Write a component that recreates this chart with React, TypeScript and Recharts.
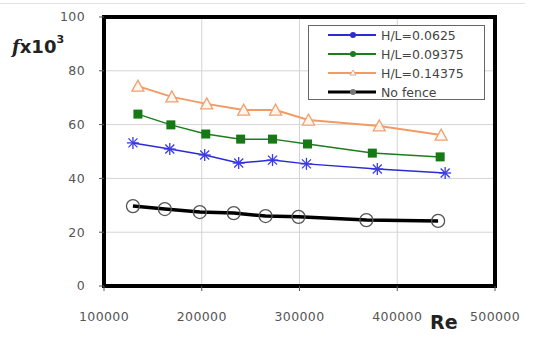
import { LineChart, Line, XAxis, YAxis, CartesianGrid, ReferenceArea, Legend } from "recharts";

const xTicks = [100000, 200000, 300000, 400000, 500000];
const yTicks = [0, 20, 40, 60, 80, 100];

const seriesNames = ["H/L=0.0625", "H/L=0.09375", "H/L=0.14375", "No fence"];

const reLow = [129600, 167300, 203000, 237800, 272400, 307100, 379600, 449000];
const fLow = [53.2, 50.9, 48.7, 45.7, 46.8, 45.4, 43.5, 42.0];

const reMid = [134700, 168400, 204100, 239800, 272400, 308200, 374500, 443900];
const fMid = [63.9, 59.9, 56.5, 54.6, 54.6, 52.8, 49.4, 48.0];

const reHigh = [134700, 169400, 205100, 242900, 275500, 309200, 381600, 444900];
const fHigh = [74.3, 70.3, 67.7, 65.4, 65.4, 61.7, 59.5, 56.1];

const reNone = [129600, 162200, 198000, 232700, 265300, 299000, 368400, 441800];
const fNone = [29.7, 28.6, 27.5, 27.1, 26.0, 25.7, 24.5, 24.2];

const toPoints = (re: number[], f: number[]) => re.map((r, i) => ({ re: r, f: f[i] }));

const colors = ["#2b2bd6", "#1b7d1b", "#f29a62", "#000000"];

const Star = (props: any) => {
  const { cx, cy } = props;
  if (cx == null || cy == null) return null;
  const s = 6;
  return (
    <g stroke="#3a3ae8" strokeWidth={1.3}>
      <line x1={cx - s} y1={cy} x2={cx + s} y2={cy} />
      <line x1={cx} y1={cy - s} x2={cx} y2={cy + s} />
      <line x1={cx - 4.5} y1={cy - 4.5} x2={cx + 4.5} y2={cy + 4.5} />
      <line x1={cx - 4.5} y1={cy + 4.5} x2={cx + 4.5} y2={cy - 4.5} />
    </g>
  );
};

const Square = (props: any) => {
  const { cx, cy } = props;
  if (cx == null || cy == null) return null;
  return <rect x={cx - 4.5} y={cy - 4.5} width={9} height={9} fill="#157a15" />;
};

const Triangle = (props: any) => {
  const { cx, cy } = props;
  if (cx == null || cy == null) return null;
  return (
    <polygon
      points={`${cx},${cy - 6} ${cx + 6},${cy + 5} ${cx - 6},${cy + 5}`}
      fill="#fff6ee"
      stroke="#f0a070"
      strokeWidth={1.3}
    />
  );
};

const Ring = (props: any) => {
  const { cx, cy } = props;
  if (cx == null || cy == null) return null;
  return <circle cx={cx} cy={cy} r={6.5} fill="none" stroke="#555" strokeWidth={1.3} />;
};

const LegendBox = () => (
  <div
    style={{
      width: 177,
      height: 75,
      border: "1px solid #666",
      boxSizing: "border-box",
      background: "#fff",
      position: "relative",
    }}
  >
    <svg width={177} height={75} style={{ position: "absolute", left: 0, top: 0 }}>
      {seriesNames.map((name, i) => {
        const y = 9 + i * 19;
        return (
          <g key={name}>
            <line x1={19} y1={y} x2={67} y2={y} stroke={colors[i]} strokeWidth={i === 3 ? 3 : 2} />
            {i === 2 ? (
              <polygon points={`44,${y - 3} 47,${y + 2} 41,${y + 2}`} fill="#fff" stroke="#f0a070" />
            ) : (
              <circle cx={44} cy={y} r={3} fill={i === 3 ? "#777" : colors[i]} />
            )}
            <text
              x={72}
              y={y + 4.5}
              fontFamily="DejaVu Sans, sans-serif"
              fontSize={12.5}
              fill="#444"
            >
              {name}
            </text>
          </g>
        );
      })}
    </svg>
  </div>
);

const tickStyle = { fontFamily: "DejaVu Sans, sans-serif", fontSize: 12.5, fill: "#555", letterSpacing: 0.4 };

export default function App() {
  return (
    <div style={{ position: "absolute", left: 0, top: 0, width: 544, height: 340, background: "#fff" }}>
      <div style={{ position: "absolute", left: 0, top: 3, width: 525, height: 1, background: "#e2e2e2" }} />
      <LineChart width={544} height={340} margin={{ top: 17, right: 49, bottom: 24, left: 0 }}>
        <CartesianGrid stroke="#d4d4d4" strokeWidth={1} />
        <XAxis
          type="number"
          dataKey="re"
          domain={[100000, 500000]}
          ticks={xTicks}
          height={30}
          allowDuplicatedCategory={false}
          axisLine={false}
          tickLine={{ stroke: "#555" }}
          tickSize={5}
          tickMargin={21}
          tick={tickStyle}
        />
        <YAxis
          type="number"
          dataKey="f"
          domain={[0, 100]}
          ticks={yTicks}
          width={104}
          axisLine={false}
          tickLine={{ stroke: "#555" }}
          tickSize={5}
          tickMargin={14}
          tick={tickStyle}
        />
        <ReferenceArea
          x1={100000}
          x2={500000}
          y1={0}
          y2={100}
          fill="none"
          fillOpacity={0}
          stroke="#000"
          strokeWidth={4}
        />
        <Line data={toPoints(reNone, fNone)} dataKey="f" name={seriesNames[3]} stroke={colors[3]} strokeWidth={3.5} dot={<Ring />} isAnimationActive={false} />
        <Line data={toPoints(reHigh, fHigh)} dataKey="f" name={seriesNames[2]} stroke={colors[2]} strokeWidth={2} dot={<Triangle />} isAnimationActive={false} />
        <Line data={toPoints(reMid, fMid)} dataKey="f" name={seriesNames[1]} stroke={colors[1]} strokeWidth={1.5} dot={<Square />} isAnimationActive={false} />
        <Line data={toPoints(reLow, fLow)} dataKey="f" name={seriesNames[0]} stroke={colors[0]} strokeWidth={1.5} dot={<Star />} isAnimationActive={false} />
        <Legend
          layout="horizontal"
          verticalAlign="middle"
          align="center"
          content={() => <LegendBox />}
          wrapperStyle={{ left: 308, top: 25, width: 177, height: 75 }}
        />
      </LineChart>
      <div
        style={{
          position: "absolute",
          left: 12,
          top: 36,
          fontFamily: "DejaVu Sans, sans-serif",
          fontWeight: "bold",
          fontSize: 18,
          color: "#222",
          whiteSpace: "nowrap",
        }}
      >
        <span style={{ fontFamily: "DejaVu Serif, serif", fontStyle: "italic" }}>f</span>x10
        <sup style={{ fontSize: 11, verticalAlign: "top", position: "relative", top: -3 }}>3</sup>
      </div>
      <div
        style={{
          position: "absolute",
          left: 430,
          top: 311,
          fontFamily: "DejaVu Sans, sans-serif",
          fontWeight: "bold",
          fontSize: 19,
          color: "#222",
        }}
      >
        Re
      </div>
    </div>
  );
}
